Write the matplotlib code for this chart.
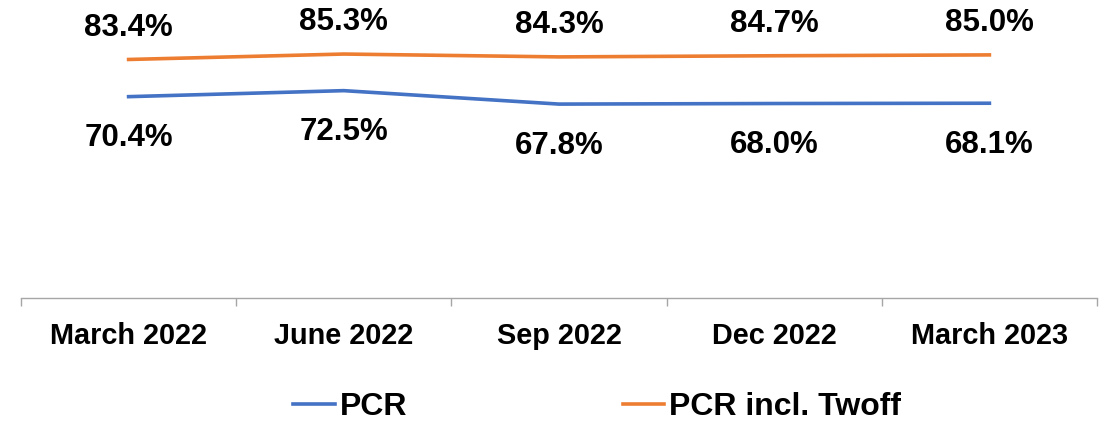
import numpy as np
import matplotlib.pyplot as plt

categories = ['March 2022', 'June 2022', 'Sep 2022', 'Dec 2022', 'March 2023']
pcr = [70.4, 72.5, 67.8, 68.0, 68.1]
pcr_twoff = [83.4, 85.3, 84.3, 84.7, 85.0]

plt.rcParams['font.family'] = ['Liberation Sans', 'DejaVu Sans']
plt.rcParams['font.weight'] = 'bold'

fig = plt.figure(figsize=(11.02, 4.22), dpi=100)
ax = fig.add_axes([21 / 1102, 1 - 298 / 422, 1076 / 1102, 286 / 422])

ind = np.arange(len(categories))
line_pcr, = ax.plot(ind, pcr, color='#4472C4', lw=2.6, label='PCR')
line_tw, = ax.plot(ind, pcr_twoff, color='#ED7D31', lw=2.6,
                   label='PCR incl. Twoff')

# data labels: orange above, blue below
for i in ind:
    ax.annotate(f'{pcr_twoff[i]:.1f}%', (i, pcr_twoff[i]), xytext=(0, 23),
                textcoords='offset points', ha='center', va='center',
                fontsize=22.5, fontweight='bold')
    ax.annotate(f'{pcr[i]:.1f}%', (i, pcr[i]), xytext=(0, -30),
                textcoords='offset points', ha='center', va='center',
                fontsize=22.5, fontweight='bold')

ax.set_xlim(-0.5, len(categories) - 0.5)
ax.set_ylim(0, 100)
ax.set_yticks([])
for side in ['left', 'right', 'top']:
    ax.spines[side].set_visible(False)
ax.spines['bottom'].set_color('#A6A6A6')
ax.spines['bottom'].set_linewidth(1)

ax.set_xticks(ind)
ax.set_xticklabels(categories, fontsize=20.8, fontweight='bold')
ax.tick_params(axis='x', which='major', length=0, pad=17)
ax.set_xticks(np.arange(-0.5, len(categories)), minor=True)
ax.tick_params(axis='x', which='minor', length=6, color='#A6A6A6', width=1)

fig.legend(handles=[line_pcr, line_tw], loc='center',
           bbox_to_anchor=(0.542, 1 - 407 / 422), ncol=2, frameon=False,
           prop={'size': 23, 'weight': 'bold'}, handlelength=1.3,
           handletextpad=0.15, columnspacing=6.75)

plt.savefig('out.png', facecolor='white')
